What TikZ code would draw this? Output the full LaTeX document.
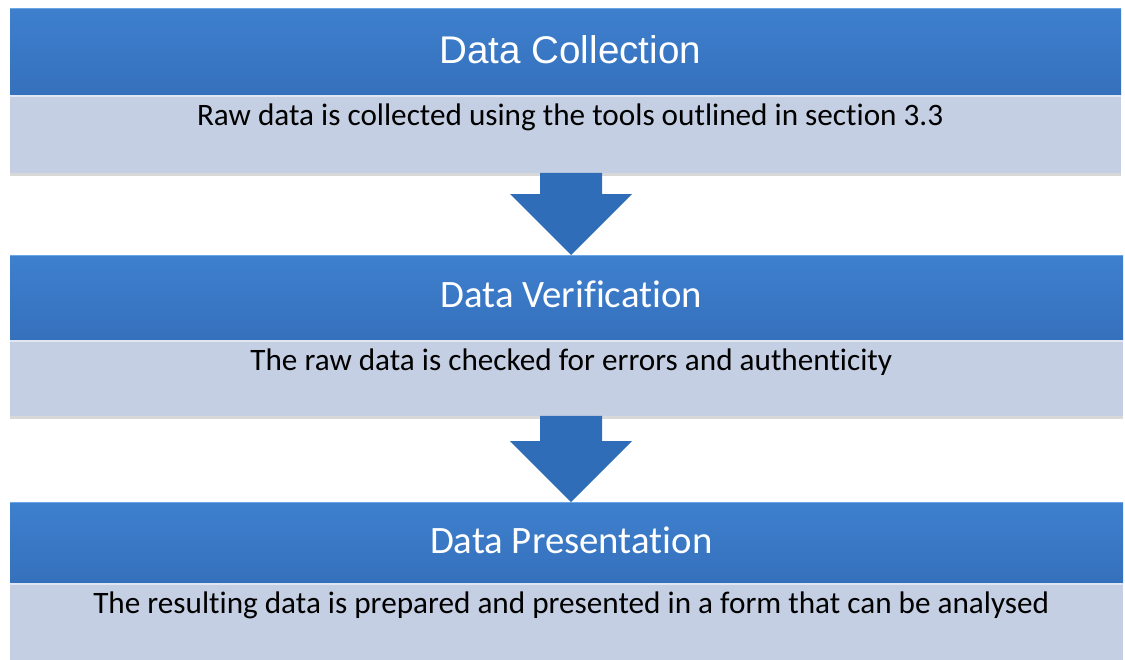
\documentclass[tikz,border=0pt]{standalone}
\usepackage{fontspec}
\setmainfont[Ligatures=NoCommon]{Carlito}
\newfontfamily\headfont{Liberation Sans}
\usetikzlibrary{calc,shadows}

\definecolor{headtop}{HTML}{3E80CE}
\definecolor{headbot}{HTML}{3570BC}
\definecolor{headhl}{HTML}{6CA6E4}
\definecolor{bodyfill}{HTML}{C5CFE3}
\definecolor{bodyhl}{HTML}{E1E7F2}
\definecolor{arrowblue}{HTML}{2F6DB8}

\tikzset{
  head/.style={anchor=north west, inner sep=0pt, minimum width=#1,
    top color=headtop, bottom color=headbot, text=white,
    font=\fontsize{38.8}{42}\selectfont,
    execute at begin node=\hspace*{9pt},
    path picture={\draw[headhl, line width=2.5pt]
      (path picture bounding box.north west) -- (path picture bounding box.north east);}},
  desc/.style={anchor=north west, inner xsep=0pt, inner ysep=0pt, minimum width=#1,
    fill=bodyfill, text=black, text height=30pt,
    font=\fontsize{31.2}{35}\selectfont,
    execute at begin node=\hspace*{9pt},
    drop shadow={shadow xshift=0pt, shadow yshift=-3pt, opacity=0.3},
    path picture={\draw[bodyhl, line width=3pt]
      (path picture bounding box.north west) -- (path picture bounding box.north east);}},
  blockarrow/.style={fill=arrowblue}
}

\begin{document}
\begin{tikzpicture}[x=1pt,y=-1pt]
	\clip (0,0) rectangle (1125,659);
	\fill[white] (0,0) rectangle (1125,659);
	\coordinate (mid) at (571,0);
	%Khoi 1
	\node[head=1111pt, text height=55pt, text depth=32pt, font=\headfont\fontsize{38.6}{42}\selectfont] (head1) at (10,8) {Data Collection};
	\node[desc=1111pt, text depth=47pt] (body1) at (head1.south west) {Raw data is collected using the tools outlined in section 3.3};
	%Khoi 2
	\node[head=1113pt, text height=52pt, text depth=33pt] (head2) at (10,255) {Data Verification};
	\node[desc=1113pt, text depth=45pt] (body2) at (head2.south west) {The raw data is checked for errors and authenticity};
	%Khoi 3
	\node[head=1113pt, text height=51pt, text depth=30pt] (head3) at (10,502) {Data Presentation};
	\node[desc=1113pt, text depth=60pt] (body3) at (head3.south west) {The resulting data is prepared and presented in a form that can be analysed};
	%Mui ten 1,2
	\foreach \from/\to in {body1/head2, body2/head3}
	  \fill[blockarrow] ($(\from.south -| mid)+(-31,0)$) -- ($(\to.north -| mid)+(-31,-61)$)
	    -- ($(\to.north -| mid)+(-61,-61)$) -- (\to.north -| mid)
	    -- ($(\to.north -| mid)+(61,-61)$) -- ($(\to.north -| mid)+(31,-61)$)
	    -- ($(\from.south -| mid)+(31,0)$) -- cycle;
\end{tikzpicture}
\end{document}
